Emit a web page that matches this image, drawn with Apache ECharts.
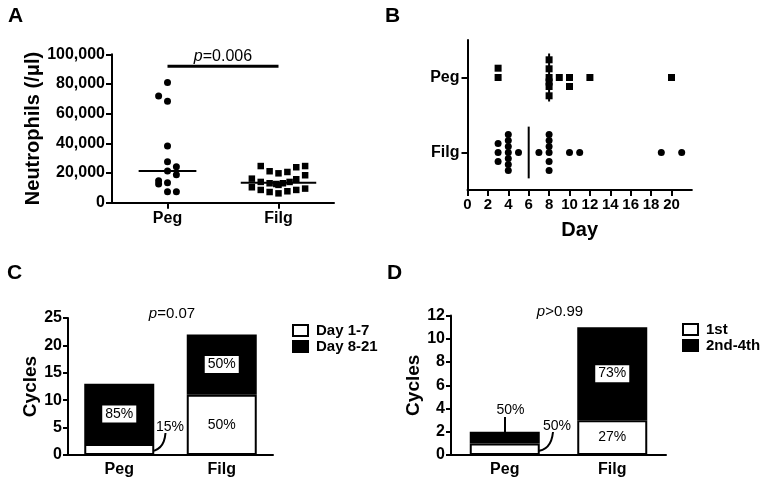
<!DOCTYPE html>
<html><head><meta charset="utf-8">
<script src="https://cdn.jsdelivr.net/npm/echarts@6/dist/echarts.min.js"></script>
<style>html,body{margin:0;padding:0;background:#fff}#c{width:760px;height:497px}</style>
</head><body><div id="c"></div>
<script>
// ---------- data ----------
const groups = ['Peg', 'Filg'];
// Panel A: neutrophils (/ul)
const aPegValues  = [81000, 71900, 68300, 38200, 27600, 24300, 21400, 18900, 14800, 12600, 13500, 7400, 7400];
const aPegJitter  = [0, -0.08, 0, 0, 0, 0.08, 0, 0.08, -0.08, -0.08, 0, 0, 0.08];
const aFilgValues = [24700, 21200, 19800, 20700, 23900, 24700, 18500, 16200, 14000, 13100, 12600, 13100, 14000, 15800, 10400, 8600, 7200, 6300, 7700, 8600, 9500, 12000];
const aFilgJitter = [-0.16, -0.08, 0, 0.08, 0.16, 0.24, 0.24, -0.24, -0.16, -0.08, -0.02, 0.04, 0.10, 0.16, -0.24, -0.16, -0.08, 0, 0.08, 0.16, 0.24, 0];
const aMedians = [21400, 13500];
const aSigLevel = 92000;
const aPText = 'p=0.006';
// Panel B: day of event
const bRows = ['Filg', 'Peg'];
const bXTicks = [0, 2, 4, 6, 8, 10, 12, 14, 16, 18, 20];
const bPegDays    = [3, 3, 8, 8, 8, 8, 8, 8, 9, 10, 10, 12, 20];
const bPegJitter  = [0, 0.124, 0.236, 0.116, 0, -0.06, -0.12, -0.244, 0, 0, -0.12, 0, 0];
const bFilgDays   = [3, 3, 3, 4, 4, 4, 4, 4, 4, 4, 5, 7, 8, 8, 8, 8, 8, 8, 10, 11, 19, 21];
const bFilgJitter = [0.12, 0, -0.12, 0.24, 0.16, 0.08, 0, -0.08, -0.16, -0.24, 0, 0, 0.24, 0.16, 0.08, 0, -0.12, -0.24, 0, 0, 0, 0];
const bMedians = [6, 8]; // Filg, Peg
// Panel C: cycles by day
const cNames = ['Day 1-7', 'Day 8-21'];
const cEarly = [2, 11];
const cLate = [11, 11];
const cEarlyPct = ['15%', '50%'];
const cLatePct = ['85%', '50%'];
const cPText = 'p=0.07';
// Panel D: cycles by cycle number
const dNames = ['1st', '2nd-4th'];
const dFirst = [1, 3];
const dLater = [1, 8];
const dFirstPct = ['50%', '27%'];
const dLaterPct = ['50%', '73%'];
const dPText = 'p>0.99';

// ---------- style ----------
const FF = "'Liberation Sans', Arial, sans-serif";
const K = '#000';
const axLine = {show: true, onZero: false, lineStyle: {color: K, width: 2}};
const axTick = (extra) => Object.assign({show: true, length: 6, lineStyle: {color: K, width: 2}}, extra || {});
const boldLab = (size, extra) => Object.assign({color: K, fontFamily: FF, fontWeight: 'bold', fontSize: size}, extra || {});
const nameStyle = (size) => ({color: K, fontFamily: FF, fontWeight: 'bold', fontSize: size});
const richP = (txt, size) => {
  const rest = txt.slice(1);
  return {text: '{i|p}{n|' + rest + '}', rich: {i: {fontStyle: 'italic', fontSize: size, fontFamily: FF, fill: K}, n: {fontSize: size, fontFamily: FF, fill: K}}};
};
const dot = {color: K, opacity: 1};

const chart = echarts.init(document.getElementById('c'), null, {renderer: 'canvas'});

const grids = [
  {left: 112, top: 54.3, width: 222, height: 148.4},
  {left: 467.5, top: 40, width: 224.4, height: 150},
  {left: 68, top: 318, width: 205, height: 137},
  {left: 451, top: 315.5, width: 215, height: 139.5}
];

const hMedian = (halves) => function (params, api) {
  const x = api.value(0), y = api.value(1), h = halves[params.dataIndex];
  const p1 = api.coord([x - h, y]), p2 = api.coord([x + h, y]);
  return {type: 'line', shape: {x1: p1[0], y1: p1[1], x2: p2[0], y2: p2[1]}, style: {stroke: K, lineWidth: 2}};
};
const vMedian = (halves) => function (params, api) {
  const x = api.value(0), y = api.value(1), h = halves[params.dataIndex];
  const p1 = api.coord([x, y - h]), p2 = api.coord([x, y + h]);
  return {type: 'line', shape: {x1: p1[0], y1: p1[1], x2: p2[0], y2: p2[1]}, style: {stroke: K, lineWidth: 2}};
};

const pctLabel = (arr, boxed) => ({
  show: true, position: 'inside', color: K, fontFamily: FF, fontSize: 14,
  formatter: (p) => arr[p.dataIndex],
  backgroundColor: boxed ? '#fff' : 'transparent', padding: boxed ? [2, 3, 1, 3] : 0
});
const barData = (vals, hideIdx) => vals.map((v, i) => ({value: v, label: {show: i !== hideIdx}}));
const legendText = {color: K, fontFamily: FF, fontWeight: 'bold', fontSize: 15, lineHeight: 14, padding: [0, 0, 0, 3]};

const option = {
  backgroundColor: '#fff',
  animation: false,
  grid: grids,
  legend: [
    {data: cNames, orient: 'vertical', left: 287, top: 318, itemWidth: 15, itemHeight: 11, itemGap: 1,
     icon: 'rect', textStyle: legendText},
    {data: dNames, orient: 'vertical', left: 677, top: 317, itemWidth: 15, itemHeight: 11, itemGap: 1,
     icon: 'rect', textStyle: legendText}
  ],
  xAxis: [
    {gridIndex: 0, type: 'value', min: -0.5, max: 1.5, axisLine: axLine,
     axisTick: axTick({customValues: [0, 1]}),
     axisLabel: boldLab(16, {customValues: [0, 1], margin: 8, formatter: (v) => groups[Math.round(v)]}),
     splitLine: {show: false}},
    {gridIndex: 1, type: 'value', min: 0, max: 22, axisLine: axLine,
     axisTick: axTick({customValues: bXTicks}),
     axisLabel: boldLab(15, {customValues: bXTicks, margin: 7}),
     splitLine: {show: false},
     name: 'Day', nameLocation: 'middle', nameGap: 30, nameTextStyle: nameStyle(20)},
    {gridIndex: 2, type: 'category', data: groups, axisLine: axLine, axisTick: {show: false},
     axisLabel: boldLab(16, {margin: 7})},
    {gridIndex: 3, type: 'category', data: groups, axisLine: axLine, axisTick: {show: false},
     axisLabel: boldLab(16, {margin: 7})}
  ],
  yAxis: [
    {gridIndex: 0, type: 'value', min: 0, max: 100000, interval: 20000, axisLine: axLine, axisTick: axTick(),
     axisLabel: boldLab(16, {margin: 7, formatter: (v) => v.toLocaleString('en-US')}),
     splitLine: {show: false},
     name: 'Neutrophils (/\u03bcl)', nameLocation: 'middle', nameGap: 68, nameTextStyle: nameStyle(20)},
    {gridIndex: 1, type: 'value', min: -0.5, max: 1.5, axisLine: axLine,
     axisTick: axTick({customValues: [0, 1]}),
     axisLabel: boldLab(16, {customValues: [0, 1], margin: 8, formatter: (v) => bRows[Math.round(v)]}),
     splitLine: {show: false}},
    {gridIndex: 2, type: 'value', min: 0, max: 25, interval: 5, axisLine: axLine, axisTick: axTick({length: 5}),
     axisLabel: boldLab(16, {margin: 6}), splitLine: {show: false},
     name: 'Cycles', nameLocation: 'middle', nameGap: 28, nameTextStyle: nameStyle(19)},
    {gridIndex: 3, type: 'value', min: 0, max: 12, interval: 2, axisLine: axLine, axisTick: axTick({length: 5}),
     axisLabel: boldLab(16, {margin: 6}), splitLine: {show: false},
     name: 'Cycles', nameLocation: 'middle', nameGap: 26, nameTextStyle: nameStyle(19)}
  ],
  series: [
    // A
    {type: 'scatter', xAxisIndex: 0, yAxisIndex: 0, symbol: 'circle', symbolSize: 7, itemStyle: dot,
     data: aPegValues.map((v, i) => [0 + aPegJitter[i], v])},
    {type: 'scatter', xAxisIndex: 0, yAxisIndex: 0, symbol: 'rect', symbolSize: 6.5, itemStyle: dot,
     data: aFilgValues.map((v, i) => [1 + aFilgJitter[i], v])},
    {type: 'custom', xAxisIndex: 0, yAxisIndex: 0, renderItem: hMedian([0.26, 0.34]), clip: false,
     data: aMedians.map((m, i) => [i, m]), z: 3},
    {type: 'custom', xAxisIndex: 0, yAxisIndex: 0, clip: false, data: [[0, aSigLevel]], z: 3,
     renderItem: function (params, api) {
       const p1 = api.coord([0, api.value(1)]), p2 = api.coord([1, api.value(1)]);
       const t = richP(aPText, 16);
       return {type: 'group', children: [
         {type: 'line', shape: {x1: p1[0], y1: p1[1], x2: p2[0], y2: p2[1]}, style: {stroke: K, lineWidth: 3}},
         {type: 'text', x: (p1[0] + p2[0]) / 2, y: p1[1] - 2,
          style: Object.assign({align: 'center', verticalAlign: 'bottom', fontFamily: FF, fontSize: 16, fill: K}, t)}
       ]};
     }},
    // B
    {type: 'scatter', xAxisIndex: 1, yAxisIndex: 1, symbol: 'rect', symbolSize: 7, itemStyle: dot,
     data: bPegDays.map((d, i) => [d, 1 + bPegJitter[i]])},
    {type: 'scatter', xAxisIndex: 1, yAxisIndex: 1, symbol: 'circle', symbolSize: 7, itemStyle: dot,
     data: bFilgDays.map((d, i) => [d, 0 + bFilgJitter[i]])},
    {type: 'custom', xAxisIndex: 1, yAxisIndex: 1, renderItem: vMedian([0.345, 0.32]), clip: false,
     data: bMedians.map((m, i) => [m, i]), z: 1},
    // C
    {name: cNames[0], type: 'bar', stack: 'c', xAxisIndex: 2, yAxisIndex: 2, barWidth: 70,
     itemStyle: {color: '#fff', borderColor: K, borderWidth: 2},
     label: pctLabel(cEarlyPct, false), data: barData(cEarly, 0)},
    {name: cNames[1], type: 'bar', stack: 'c', xAxisIndex: 2, yAxisIndex: 2, barWidth: 70,
     itemStyle: {color: K, borderColor: K, borderWidth: 2},
     label: pctLabel(cLatePct, true), data: barData(cLate, -1)},
    // D
    {name: dNames[0], type: 'bar', stack: 'd', xAxisIndex: 3, yAxisIndex: 3, barWidth: 70,
     itemStyle: {color: '#fff', borderColor: K, borderWidth: 2},
     label: pctLabel(dFirstPct, false), data: barData(dFirst, 0)},
    {name: dNames[1], type: 'bar', stack: 'd', xAxisIndex: 3, yAxisIndex: 3, barWidth: 70,
     itemStyle: {color: K, borderColor: K, borderWidth: 2},
     label: pctLabel(dLaterPct, true), data: barData(dLater, 0)}
  ],
  graphic: [
    {type: 'text', left: 8, top: 6, style: {text: 'A', fontFamily: FF, fontWeight: 'bold', fontSize: 21, fill: K}},
    {type: 'text', left: 385, top: 6, style: {text: 'B', fontFamily: FF, fontWeight: 'bold', fontSize: 21, fill: K}},
    {type: 'text', left: 7, top: 263, style: {text: 'C', fontFamily: FF, fontWeight: 'bold', fontSize: 21, fill: K}},
    {type: 'text', left: 387, top: 263, style: {text: 'D', fontFamily: FF, fontWeight: 'bold', fontSize: 21, fill: K}},
    // p values
    {type: 'text', x: 172, y: 314, style: Object.assign({align: 'center', verticalAlign: 'middle', fontFamily: FF, fontSize: 15, fill: K}, richP(cPText, 15))},
    {type: 'text', x: 560, y: 312, style: Object.assign({align: 'center', verticalAlign: 'middle', fontFamily: FF, fontSize: 15, fill: K}, richP(dPText, 15))},
    // C external 15%
    {type: 'text', x: 170, y: 426.7, style: {text: cEarlyPct[0], align: 'center', verticalAlign: 'middle', fontFamily: FF, fontSize: 14, fill: K}},
    {type: 'bezierCurve', shape: {x1: 165.5, y1: 433, cpx1: 164, cpy1: 452, x2: 147, y2: 451.5}, style: {stroke: K, lineWidth: 2, fill: null}},
    // D external labels
    {type: 'text', x: 510.5, y: 410, style: {text: dLaterPct[0], align: 'center', verticalAlign: 'middle', fontFamily: FF, fontSize: 14, fill: K}},
    {type: 'line', shape: {x1: 505, y1: 417, x2: 505, y2: 433}, style: {stroke: K, lineWidth: 2}},
    {type: 'text', x: 557, y: 426, style: {text: dFirstPct[0], align: 'center', verticalAlign: 'middle', fontFamily: FF, fontSize: 14, fill: K}},
    {type: 'bezierCurve', shape: {x1: 553, y1: 432, cpx1: 551, cpy1: 452, x2: 534, y2: 451}, style: {stroke: K, lineWidth: 2, fill: null}}
  ]
};
chart.setOption(option);
</script>
</body></html>
